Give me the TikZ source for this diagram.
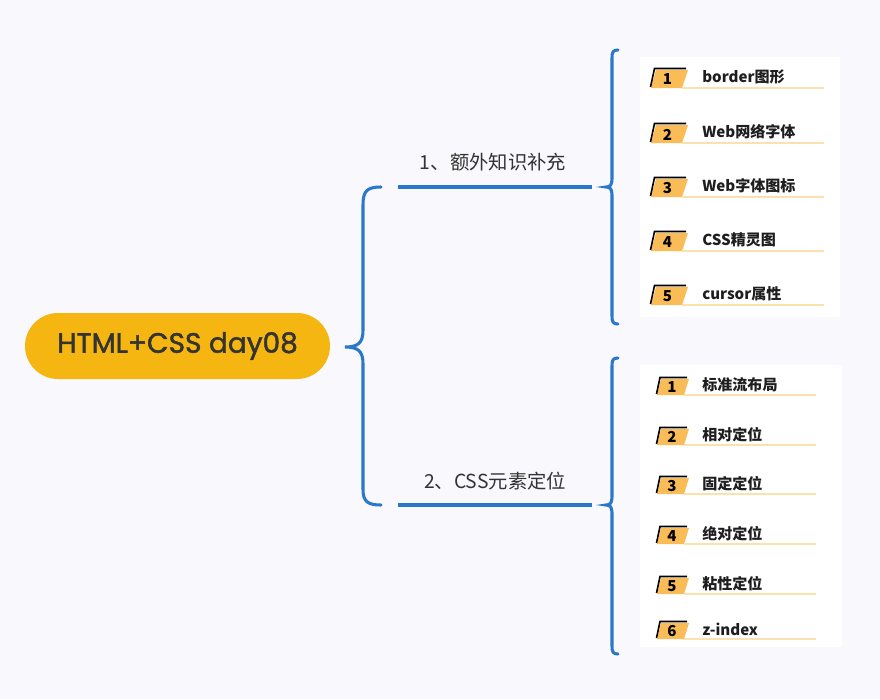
\documentclass[tikz,border=0pt]{standalone}
\usepackage{fontspec}
\setmainfont{Noto Sans CJK SC}
\newfontfamily\titlefont{Poppins}[BoldFont=Poppins, BoldFeatures={FakeBold=1.6}]
\usetikzlibrary{shapes.misc}
\definecolor{bg}{HTML}{F8F8FD}
\definecolor{gold}{HTML}{F6B612}
\definecolor{bl}{HTML}{2A78C8}
\definecolor{badgec}{HTML}{F9BC56}
\definecolor{ulinec}{HTML}{FBE1AC}
\definecolor{txt}{HTML}{333333}
\definecolor{itxt}{HTML}{1E1E1E}
\tikzset{
  bracestyle/.style={draw=bl, line width=2.3pt, line cap=round},
  topicline/.style={draw=bl, line width=2.3pt},
  topictext/.style={font=\fontsize{14.5}{17}\selectfont, text=txt, inner sep=0pt},
  itemtext/.style={font=\bfseries\fontsize{11.3}{13}\selectfont, text=itxt, inner sep=0pt, anchor=west},
  numtext/.style={font=\bfseries\fontsize{11.3}{13}\selectfont, text=black, inner sep=0pt},
  ul/.style={draw=ulinec, line width=1.3pt},
}
\begin{document}
\begin{tikzpicture}[x=0.75pt,y=-0.75pt]
\fill[bg] (0,0) rectangle (880,699);
\useasboundingbox (0,0) rectangle (880,699);
\fill[white] (640,57) rectangle (840,317);
\fill[white] (640,365) rectangle (842,647);

% root
\node[rounded rectangle, fill=gold, minimum width=228.75pt, minimum height=49.5pt, inner sep=0pt,
      font=\titlefont\bfseries\fontsize{21}{24}\selectfont, text=txt] (root) at (177.5,346) {HTML+CSS day08};

% main brace
\coordinate (mtip) at (345,347);
\coordinate (mtop) at (381,187);
\coordinate (mbot) at (381,505);
\draw[bracestyle] (mtop) .. controls (367,187) and (363,191) .. (363,205) -- (363,330)
   .. controls (363,343) and (358,347) .. (mtip)
   .. controls (358,347) and (363,351) .. (363,364) -- (363,489)
   .. controls (363,501) and (367,505) .. (mbot);

% topics
\coordinate (t1l) at (398,187); \coordinate (t1r) at (592,187);
\coordinate (t2l) at (398,505); \coordinate (t2r) at (592,505);
\draw[topicline] (t1l) -- (t1r);
\draw[topicline] (t2l) -- (t2r);
\node[topictext] (t1) at (493,162) {1、额外知识补充};
\node[topictext] (t2) at (495,481) {2、CSS元素定位};

% right brace 1
\coordinate (r1tip) at (606,187);
\coordinate (r1top) at (618,50);
\coordinate (r1bot) at (618,324);
\draw[bracestyle] (r1top) .. controls (613,50) and (612,52) .. (612,58) -- (612,179)
   .. controls (612,185) and (610,187) .. (r1tip)
   .. controls (610,187) and (612,189) .. (612,195) -- (612,316)
   .. controls (612,322) and (613,324) .. (r1bot);

% right brace 2
\coordinate (r2tip) at (606,505);
\coordinate (r2top) at (618,358);
\coordinate (r2bot) at (618,654);
\draw[bracestyle] (r2top) .. controls (613,358) and (612,360) .. (612,366) -- (612,497)
   .. controls (612,503) and (610,505) .. (r2tip)
   .. controls (610,505) and (612,507) .. (612,513) -- (612,646)
   .. controls (612,652) and (613,654) .. (r2bot);

% list 1
\foreach \i/\y/\t in {1/88/border图形, 2/143/Web网络字体, 3/197/Web字体图标, 4/251/CSS精灵图, 5/305/cursor属性} {
  \fill[badgec] (651,\y) -- (656,\y-18) -- (688,\y-18) -- (682,\y) -- cycle;
  \draw[black, line width=1.2pt] (650.5,\y-1) -- (654.5,\y-19.5) -- (686,\y-19.5);
  \draw[ul] (682,\y) -- (824,\y);
  \node[numtext] (a\i) at (667.5,\y-8.5) {\i};
  \node[itemtext] (b\i) at (702,\y-11) {\t};
}

% list 2
\foreach \i/\y/\t in {1/395/标准流布局, 2/445/相对定位, 3/494/固定定位, 4/544/绝对定位, 5/594/粘性定位, 6/639/z-index} {
  \fill[badgec] (657,\y) -- (661,\y-16) -- (689,\y-16) -- (684,\y) -- cycle;
  \draw[black, line width=1.2pt] (656.5,\y-1) -- (660,\y-17.5) -- (687,\y-17.5);
  \draw[ul] (684,\y) -- (816,\y);
  \node[numtext] (c\i) at (672,\y-8) {\i};
  \node[itemtext] (d\i) at (702,\y-10) {\t};
}
\end{tikzpicture}
\end{document}
